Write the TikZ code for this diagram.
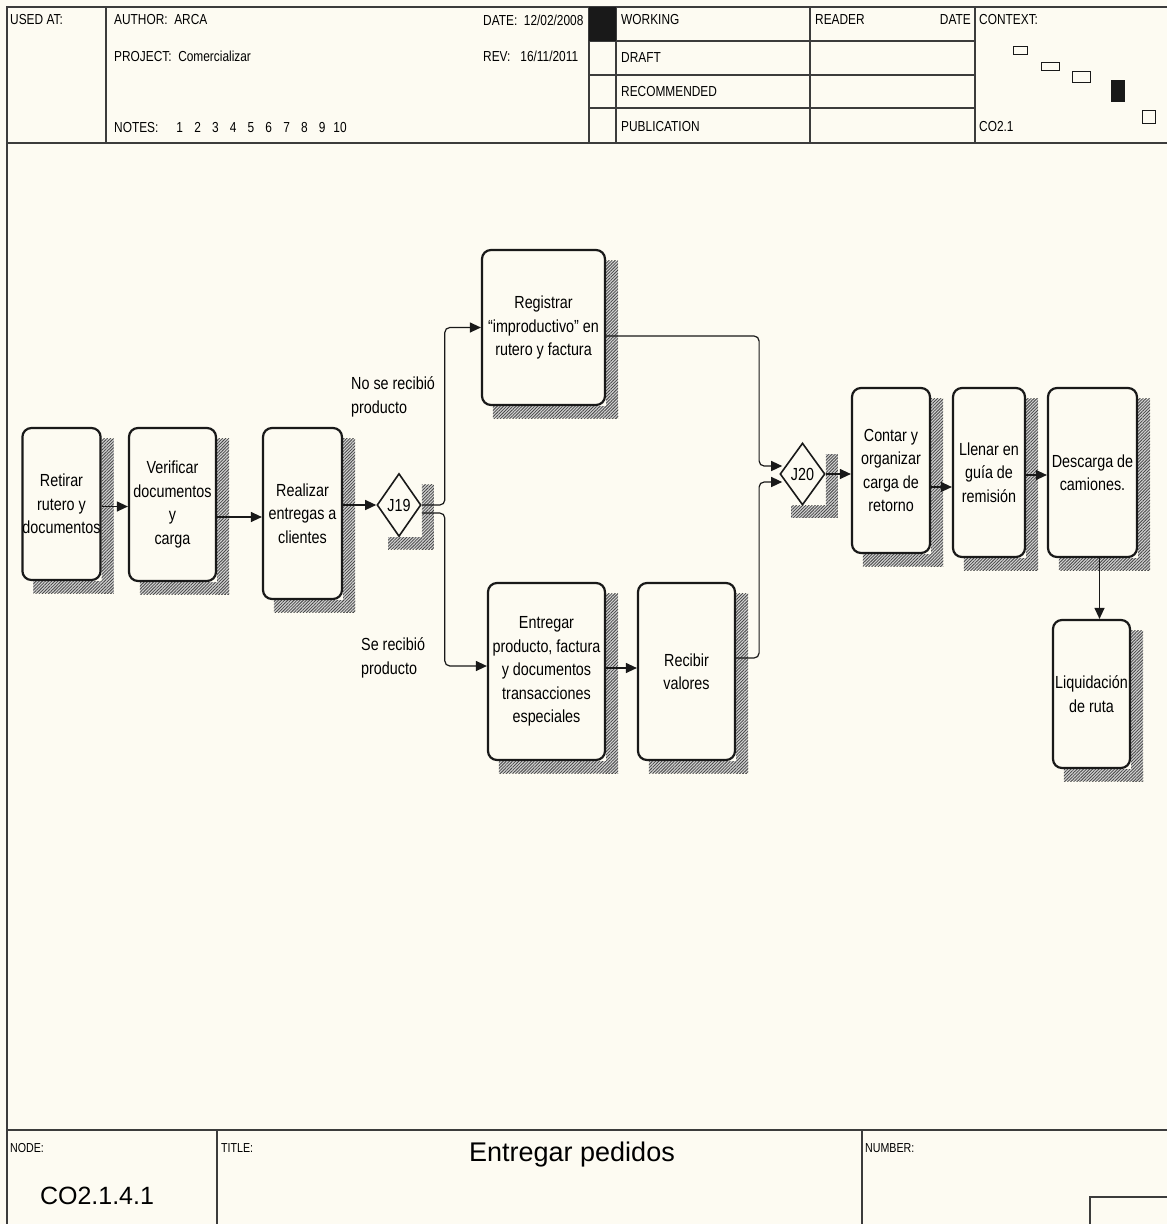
\documentclass[tikz,border=0pt]{standalone}
\usepackage{fontspec}
\setmainfont{Liberation Sans}
\newfontfamily\narrowfont{Liberation Sans}[FakeStretch=0.82]
\usetikzlibrary{shapes.geometric,arrows.meta,patterns.meta,backgrounds,calc}

\definecolor{paper}{RGB}{253,251,242}
\definecolor{ink}{RGB}{25,25,25}

\newcommand{\boxfont}{\narrowfont\fontsize{17.5}{23.5}\selectfont}
\newcommand{\formfont}{\narrowfont\fontsize{14.5}{18}\selectfont}
\newcommand{\labelfont}{\narrowfont\fontsize{13}{15}\selectfont}

\tikzset{
    activity/.style={draw=ink, line width=2.2pt, rounded corners=9pt, fill=paper,
        align=center, font=\boxfont, inner sep=0pt},
    junction/.style={diamond, draw=ink, line width=1.6pt, fill=paper,
        font=\boxfont, inner sep=0pt},
    flow/.style={draw=ink, line width=1.2pt, rounded corners=5pt,
        -{Triangle[length=11pt,width=10pt]}},
    hatch/.style={preaction={fill=gray!35},
        pattern={Lines[angle=45,distance=2.2pt,line width=0.8pt]},
        pattern color=gray!55!black},
    formline/.style={draw=ink!85, line width=1.3pt},
    formtext/.style={anchor=west, inner sep=0pt, font=\formfont},
}

% shadow strips right of and below a node
\newcommand{\hatchshadow}[1]{%
    \path[hatch] ($(#1.east |- #1.north)+(0pt,-12pt)$) rectangle ($(#1.east |- #1.south)+(12pt,-12pt)$);
    \path[hatch] ($(#1.west |- #1.south)+(12pt,0pt)$) rectangle ($(#1.east |- #1.south)+(12pt,-12pt)$);
}

\begin{document}
\begin{tikzpicture}[x=1pt, y=-1pt]
    \useasboundingbox (0,0) rectangle (1167,1224);
    \begin{scope}[on background layer]
        \fill[paper] (0,0) rectangle (1167,1224);
    \end{scope}

    % header form
    \draw[formline] (7,1224) -- (7,7) -- (1167,7);
    \draw[formline] (7,143) -- (1167,143);
    \draw[formline] (106,7) -- (106,143);
    \draw[formline] (589,7) -- (589,143);
    \draw[formline] (616,7) -- (616,143);
    \draw[formline] (810,7) -- (810,143);
    \draw[formline] (975,7) -- (975,143);
    \foreach \y in {41,75,108}
        \draw[formline] (589,\y) -- (975,\y);
    \fill[ink] (589,7) rectangle (616,41);

    \node[formtext] (usedat) at (10,20) {USED AT:};
    \node[formtext] (author) at (114,20) {AUTHOR:\ \ ARCA};
    \node[formtext] (project) at (114,56) {PROJECT:\ \ Comercializar};
    \node[formtext, anchor=base west] (notes) at (114,132) {NOTES:};
    \foreach \n in {1,...,10}
        \node[formtext, anchor=base] (note\n) at ({162+17.8*\n},132) {\n};
    \node[formtext] (date) at (483,20) {DATE:\ \ 12/02/2008};
    \node[formtext] (rev) at (483,56) {REV:\ \ \ 16/11/2011};
    \node[formtext] (working) at (621,20) {WORKING};
    \node[formtext] (draft) at (621,58) {DRAFT};
    \node[formtext] (recommended) at (621,92) {RECOMMENDED};
    \node[formtext] (publication) at (621,127) {PUBLICATION};
    \node[formtext] (reader) at (815,20) {READER};
    \node[formtext, anchor=east] (readerdate) at (971,20) {DATE};
    \node[formtext] (context) at (979,20) {CONTEXT:};
    \node[formtext] (contextnode) at (979,127) {CO2.1};

    % context map
    \draw[ink, line width=1pt] (1013,46) rectangle (1027,54);
    \draw[ink, line width=1pt] (1041,62) rectangle (1059,70);
    \draw[ink, line width=1pt] (1072,71) rectangle (1090,82);
    \fill[ink] (1111,80) rectangle (1125,102);
    \draw[ink, line width=1pt] (1142,110) rectangle (1155,123);

    % activities
    \node[activity, minimum width=77pt, minimum height=152pt] (retirar) at (61.5,504) {Retirar\\rutero y\\documentos};
    \node[activity, minimum width=87pt, minimum height=153pt] (verificar) at (172.5,504.5) {Verificar\\documentos\\y\\carga};
    \node[activity, minimum width=79pt, minimum height=171pt] (realizar) at (302.5,513.5) {Realizar\\entregas a\\clientes};
    \node[junction, minimum width=44pt, minimum height=63pt] (J19) at (399,505) {J19};
    \node[activity, minimum width=123pt, minimum height=155pt] (registrar) at (543.5,327.5) {Registrar\\“improductivo” en\\rutero y factura};
    \node[activity, minimum width=117pt, minimum height=177pt] (entregar) at (546.5,671.5) {Entregar\\producto, factura\\y documentos\\transacciones\\especiales};
    \node[activity, minimum width=97pt, minimum height=177pt] (recibir) at (686.5,671.5) {Recibir\\valores};
    \node[junction, minimum width=45pt, minimum height=62pt] (J20) at (802.5,474) {J20};
    \node[activity, minimum width=78pt, minimum height=165pt] (contar) at (891,470.5) {Contar y\\organizar\\carga de\\retorno};
    \node[activity, minimum width=72pt, minimum height=169pt] (llenar) at (989,472.5) {Llenar en\\guía de\\remisión};
    \node[activity, minimum width=89pt, minimum height=169pt] (descarga) at (1092.5,472.5) {Descarga de\\camiones.};
    \node[activity, minimum width=77pt, minimum height=148pt] (liquidacion) at (1091.5,694) {Liquidación\\de ruta};

    \begin{scope}[on background layer]
        \foreach \b in {retirar,verificar,realizar,J19,registrar,entregar,recibir,J20,contar,llenar,descarga,liquidacion}
            {\hatchshadow{\b}}
    \end{scope}

    % branch labels
    \node[anchor=west, align=left, font=\boxfont, inner sep=0pt] (norecibido) at (351,397) {No se recibió\\producto};
    \node[anchor=west, align=left, font=\boxfont, inner sep=0pt] (recibido) at (361,658) {Se recibió\\producto};

    % flows
    \draw[flow] ([yshift=-2.5pt]retirar.east) -- ([yshift=-2.5pt]retirar.east -| verificar.west);
    \draw[flow] ([yshift=-12.5pt]verificar.east) -- ([yshift=-12.5pt]verificar.east -| realizar.west);
    \draw[flow] ([yshift=8.5pt]realizar.east) -- (J19.west);
    \draw[flow] (J19.east) -- ++(23,0) |- (registrar.west);
    \draw[flow] ([yshift=-8pt]J19.east) -- ++(23,0) |- ([yshift=5.5pt]entregar.west);
    \draw[flow] ([yshift=3.5pt]entregar.east) -- ([yshift=3.5pt]entregar.east -| recibir.west);
    \draw[flow] ([yshift=-8.5pt]registrar.east) -- ++(153,0) |- ([shift={(3pt,8pt)}]J20.west);
    \draw[flow] ([yshift=13.5pt]recibir.east) -- ++(23,0) |- ([shift={(3pt,-8pt)}]J20.west);
    \draw[flow] (J20.east) -- (J20.east -| contar.west);
    \draw[flow] ([yshift=-16.5pt]contar.east) -- ([yshift=-16.5pt]contar.east -| llenar.west);
    \draw[flow] ([yshift=-2.5pt]llenar.east) -- ([yshift=-2.5pt]llenar.east -| descarga.west);
    \draw[flow] ([xshift=7pt]descarga.south) -- ([xshift=7pt]descarga.south |- liquidacion.north);

    % footer form
    \draw[formline] (7,1130) -- (1167,1130);
    \draw[formline] (217,1130) -- (217,1224);
    \draw[formline] (862,1130) -- (862,1224);
    \draw[formline] (1090,1224) -- (1090,1197) -- (1167,1197);
    \node[anchor=west, inner sep=0pt, font=\labelfont] (nodelabel) at (10,1148) {NODE:};
    \node[inner sep=0pt, font=\fontsize{25}{28}\selectfont] (nodenumber) at (97,1196) {CO2.1.4.1};
    \node[anchor=west, inner sep=0pt, font=\labelfont] (titlelabel) at (221,1148) {TITLE:};
    \node[inner sep=0pt, font=\fontsize{27}{30}\selectfont] (title) at (572,1155) {Entregar pedidos};
    \node[anchor=west, inner sep=0pt, font=\labelfont] (numberlabel) at (865,1148) {NUMBER:};
\end{tikzpicture}
\end{document}
